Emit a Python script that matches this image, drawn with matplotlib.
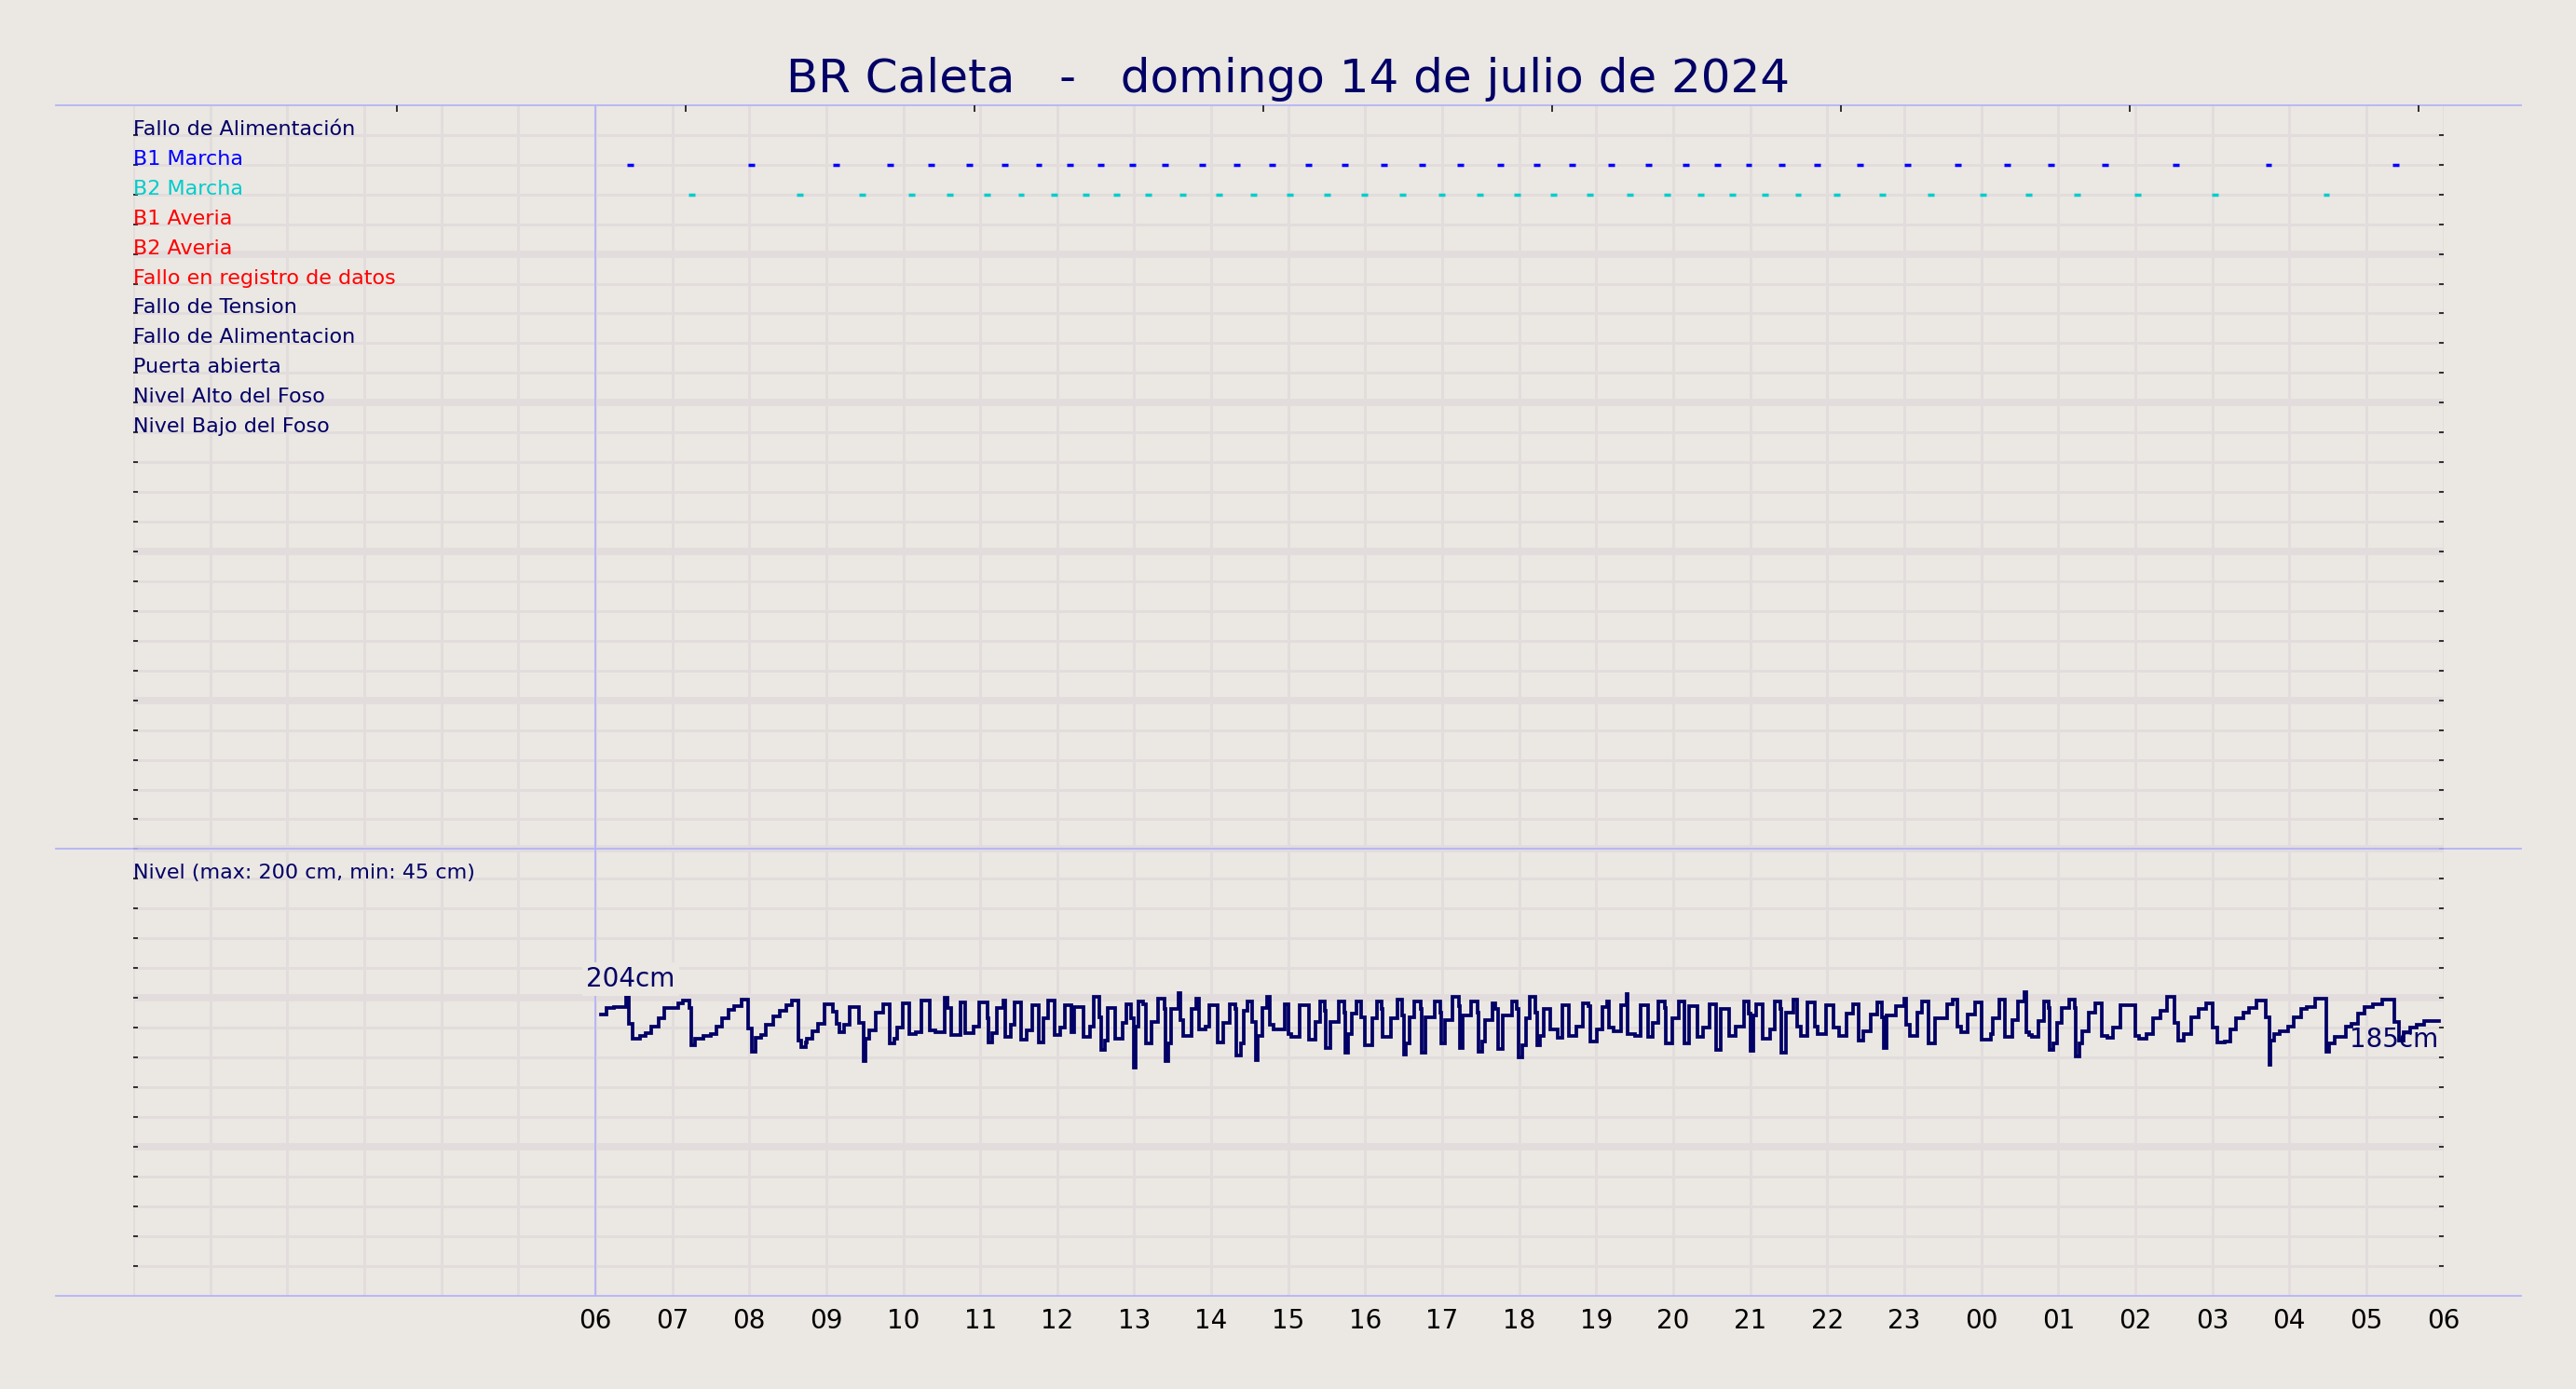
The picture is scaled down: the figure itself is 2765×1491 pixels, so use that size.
import matplotlib
matplotlib.use("Agg")
import matplotlib.pyplot as plt
from matplotlib.ticker import FixedLocator
import numpy as np

# ---------------- data ----------------
TITLE = "BR Caleta   -   domingo 14 de julio de 2024"

signal_labels = ["Fallo de Alimentación", "B1 Marcha", "B2 Marcha", "B1 Averia",
                 "B2 Averia", "Fallo en registro de datos", "Fallo de Tension",
                 "Fallo de Alimentacion", "Puerta abierta", "Nivel Alto del Foso",
                 "Nivel Bajo del Foso"]
signal_colors = ["#000066", "#0000ff", "#00cccc", "#ff0000", "#ff0000", "#ff0000",
                 "#000066", "#000066", "#000066", "#000066", "#000066"]

# pump runs (hours since 00:00 of the day; centre of each run)
b1_on = [6.46, 8.03, 9.13, 9.83, 10.36, 10.86, 11.32, 11.76, 12.17, 12.56, 12.98,
         13.40, 13.88, 14.33, 14.79, 15.26, 15.74, 16.24, 16.74, 17.24, 17.75,
         18.23, 18.69, 19.20, 19.68, 20.16, 20.57, 20.98, 21.41, 21.87, 22.43,
         23.04, 23.70, 24.34, 24.91, 25.61, 26.53, 27.73, 29.38]
b2_on = [7.25, 8.66, 9.47, 10.11, 10.61, 11.09, 11.53, 11.96, 12.37, 12.77, 13.18,
         13.63, 14.10, 14.55, 15.02, 15.50, 15.99, 16.48, 16.99, 17.49, 17.97,
         18.45, 18.92, 19.44, 19.92, 20.36, 20.77, 21.19, 21.62, 22.12, 22.72,
         23.34, 24.02, 24.61, 25.24, 26.03, 27.03, 28.48]
run_minutes = 5

# pit level, step changes (hour, cm)
level_t = [6.07, 6.15, 6.24, 6.40, 6.44, 6.48, 6.58, 6.66, 6.73, 6.82, 6.90, 7.08, 7.14,
           7.22, 7.25, 7.30, 7.40, 7.50, 7.58, 7.65, 7.73, 7.81, 7.90, 7.99, 8.04, 8.08,
           8.15, 8.22, 8.31, 8.40, 8.48, 8.56, 8.64, 8.67, 8.73, 8.75, 8.82, 8.89, 8.98,
           9.09, 9.13, 9.17, 9.23, 9.31, 9.42, 9.49, 9.51, 9.56, 9.64, 9.74, 9.82, 9.88,
           9.92, 9.99, 10.08, 10.16, 10.24, 10.34, 10.42, 10.54, 10.58, 10.62, 10.75,
           10.81, 10.91,
           10.98, 11.09, 11.11, 11.15, 11.22, 11.30, 11.33, 11.40, 11.45, 11.53, 11.60,
           11.67, 11.76, 11.82, 11.88, 11.96, 12.04, 12.10,
           12.18, 12.22, 12.34, 12.42, 12.48, 12.55, 12.57, 12.62, 12.66, 12.75, 12.85,
           12.90, 12.96, 12.99, 13.02, 13.06, 13.11, 13.15, 13.23, 13.31, 13.39, 13.40,
           13.44, 13.48, 13.57, 13.60, 13.64, 13.75, 13.81, 13.84, 13.92, 13.98, 14.08,
           14.16, 14.24, 14.31, 14.32, 14.38, 14.42, 14.47, 14.53, 14.58, 14.60, 14.66,
           14.73, 14.76, 14.81, 14.96, 15.00, 15.04, 15.15, 15.27, 15.35, 15.41, 15.47,
           15.49, 15.55, 15.65, 15.73, 15.74, 15.78, 15.83, 15.89, 15.95, 15.99, 16.09,
           16.15, 16.21, 16.23, 16.33, 16.42, 16.48, 16.50, 16.53, 16.57, 16.64, 16.72,
           16.73, 16.78, 16.90, 16.98, 16.99, 17.04, 17.13, 17.22, 17.23, 17.27, 17.38,
           17.46, 17.47, 17.52, 17.56, 17.65, 17.69, 17.73, 17.79, 17.91, 17.97, 17.99,
           18.04, 18.09, 18.14,
           18.21, 18.23, 18.27, 18.32, 18.40, 18.50, 18.56, 18.64, 18.74, 18.83, 18.90,
           18.92, 19.01, 19.08, 19.14, 19.17, 19.23, 19.32, 19.40, 19.41, 19.50, 19.57,
           19.67, 19.73, 19.81, 19.89, 19.90, 19.99, 20.07, 20.15, 20.21, 20.31, 20.39,
           20.47, 20.55, 20.62, 20.73, 20.81, 20.92, 20.98, 21.00, 21.04, 21.08, 21.16,
           21.26, 21.32, 21.39, 21.40, 21.46, 21.56, 21.61, 21.66, 21.74, 21.84, 21.88,
           21.98, 22.08, 22.15, 22.25, 22.33, 22.41, 22.47, 22.57, 22.65, 22.71, 22.73,
           22.77, 22.89, 23.00, 23.03, 23.07, 23.17, 23.23, 23.32, 23.40, 23.56, 23.63,
           23.69, 23.74, 23.82, 23.92, 24.01, 24.12,
           24.15, 24.23, 24.31, 24.40, 24.48, 24.56, 24.58, 24.62, 24.66, 24.74, 24.81,
           24.88, 24.89, 24.94, 24.98, 25.05, 25.14, 25.21, 25.22, 25.27, 25.31, 25.40,
           25.48, 25.57, 25.64, 25.71, 25.81, 26.00, 26.05, 26.15, 26.23, 26.33, 26.41,
           26.51, 26.56, 26.63, 26.73, 26.82, 26.92, 27.01, 27.06, 27.16, 27.24, 27.31,
           27.40, 27.48, 27.57, 27.69, 27.74, 27.76, 27.80, 27.88, 27.98, 28.06, 28.15,
           28.23, 28.33, 28.48, 28.52, 28.59, 28.73, 28.81, 28.89, 28.98, 29.09, 29.21,
           29.36, 29.42, 29.49, 29.57, 29.65, 29.75, 29.94]
level_cm = [188.9, 193.0, 194.1, 200.7, 182.6, 172.2, 174.3, 176.4, 180.5, 186.1, 193.0, 196.1, 198.2,
            193.0, 168.0, 172.2, 174.3, 175.7, 180.5, 186.1, 192.0, 194.5, 198.6, 179.5, 163.9, 173.2,
            174.9, 181.6, 187.4, 191.6, 195.1, 198.2, 171.2, 166.6, 170.1, 172.8, 177.8, 182.6, 195.7,
            190.9, 182.6, 177.0, 181.6, 194.1, 183.2, 157.6, 172.2, 178.4, 189.9, 195.7, 169.5, 172.2,
            179.9, 196.1, 175.7, 177.0, 198.2, 178.4, 177.0, 200.3, 193.0, 175.3, 197.2,
            176.4, 180.5,
            197.0, 186.0, 170.0, 176.0, 193.0, 198.0, 174.0, 182.0, 197.0, 172.0, 178.0,
            195.0, 170.0, 186.0, 198.0, 175.0, 180.0, 195.0,
            176.7, 194.0, 174.0, 180.8, 201.0, 187.1, 165.2, 171.5, 192.9, 172.5, 182.9,
            195.4, 186.0, 153.1, 180.8, 197.5, 195.4, 169.4, 184.0, 199.2, 192.7, 157.3,
            169.4, 192.3, 203.1, 185.0, 174.6, 192.3, 199.2, 178.8, 180.8, 194.8, 169.8,
            182.9, 195.4, 192.3, 161.0, 169.4, 191.3, 197.5, 183.5, 157.9, 174.6, 193.3,
            201.0, 181.9, 178.8, 195.4, 175.6, 173.5, 194.8, 171.9, 184.0, 197.5, 191.3,
            166.3, 184.0, 197.5, 190.2, 163.1, 175.6, 189.2, 197.5, 187.1, 168.3, 186.0,
            197.5, 192.3, 173.5, 186.0, 198.5, 188.1, 162.1, 169.4, 187.1, 197.5, 192.3,
            163.1, 187.1, 197.5, 190.2, 169.4, 185.0, 201.0, 194.4, 166.3, 188.1, 197.5,
            190.2, 163.5, 170.4, 185.0, 196.5, 192.3, 165.6, 188.1, 197.5, 192.3, 160.0,
            168.3, 186.5, 200.6,
            190.2, 168.3, 174.6, 192.7, 178.8, 173.3, 194.8, 174.6, 180.8, 196.5, 194.4,
            170.4, 178.8, 194.0, 197.5, 179.8, 177.7, 194.8, 202.3, 175.6, 174.6, 194.8,
            173.5, 182.9, 197.5, 193.3, 169.4, 186.0, 197.5, 169.4, 194.4, 173.5, 179.8,
            195.4, 164.8, 192.3, 174.6, 180.8, 197.5, 189.4, 164.2, 188.1, 195.4, 172.5,
            178.8, 197.5, 192.3, 163.1, 190.2, 198.5, 180.8, 174.6, 197.1, 180.8, 175.6,
            194.8, 179.8, 174.6, 189.2, 195.4, 171.3, 177.7, 188.8, 197.1, 187.1, 166.3,
            188.1, 194.4, 199.2, 181.9, 174.6, 190.2, 197.5, 169.4, 186.0, 195.4, 198.5,
            180.4, 176.7, 188.8, 197.1, 171.9, 175.6,
            186.0, 198.8, 174.0, 185.0, 197.5, 204.0, 176.7, 175.2, 174.0, 184.4, 197.5,
            193.3, 165.2, 169.4, 182.9, 193.3, 198.5, 193.3, 160.6, 169.4, 177.7, 190.2,
            196.5, 174.6, 173.1, 179.8, 194.8, 174.6, 172.5, 175.6, 186.0, 191.3, 201.0,
            182.9, 171.3, 175.6, 187.1, 192.7, 196.0, 179.8, 169.8, 170.4, 178.8, 186.0,
            190.2, 193.3, 198.1, 187.1, 155.0, 171.3, 175.6, 177.7, 180.8, 187.1, 192.3,
            194.0, 199.6, 163.5, 169.4, 173.5, 180.8, 182.3, 189.2, 194.0, 195.4, 199.0,
            183.6, 171.1, 177.0, 179.9, 182.0, 184.7, 184.7]

nivel_max_cm = 200
nivel_min_cm = 45

hour_ticks = list(range(0, 31))
hour_labels = [""] * 6 + ["06", "07", "08", "09", "10", "11", "12", "13", "14", "15",
                          "16", "17", "18", "19", "20", "21", "22", "23", "00", "01",
                          "02", "03", "04", "05", "06"]
top_ticks = [3.43, 7.18, 10.93, 14.68, 18.43, 22.18, 25.93, 29.68]

# ---------------- style ----------------
BG = "#ebe7e2"
GRID = "#e2dcdc"
NAVY = "#000066"
LAV = "#b4b4f8"
CM_PER_ROW = 20.0
N_ROWS = 40

fig = plt.figure(figsize=(27.65, 14.91), dpi=100, facecolor=BG)
ax = fig.add_axes([0.0517, 0.0674, 0.8968, 0.8569])
ax.set_facecolor(BG)
ax.set_xlim(0, 30)
ax.set_ylim(0, N_ROWS)
for s in ax.spines.values():
    s.set_visible(False)

ax.yaxis.set_major_locator(FixedLocator([5, 10, 15, 20, 25, 30, 35]))
ax.yaxis.set_minor_locator(FixedLocator([v for v in range(1, N_ROWS) if v % 5]))
ax.xaxis.set_major_locator(FixedLocator(hour_ticks))
ax.set_xticklabels(hour_labels)
ax.set_axisbelow(True)
ax.grid(which="major", axis="y", color=GRID, lw=5.5)
ax.grid(which="minor", axis="y", color=GRID, lw=2.0)
ax.grid(which="major", axis="x", color=GRID, lw=2.0)

ax.tick_params(axis="y", which="both", direction="in", length=3.6, width=1.2,
               left=True, right=True, labelleft=False, labelright=False, color="#111111")
ax.tick_params(axis="x", which="major", length=0, pad=10, labelsize=20, labelcolor="black")

twin = ax.twiny()
twin.set_xlim(0, 30)
twin.set_xticks(top_ticks)
twin.tick_params(axis="x", direction="in", length=5, width=1.2, top=True,
                 labeltop=False, color="#111111")
for s in twin.spines.values():
    s.set_visible(False)

# separator lines
for yv in (N_ROWS, 15, 0):
    ax.axhline(yv, xmin=-0.0335, xmax=1.0335, color=LAV, lw=1.3, clip_on=False, zorder=3)
ax.axvline(level_t[0] - 0.07, color=LAV, lw=1.3, zorder=3)

# signal labels
for i, (lab, col) in enumerate(zip(signal_labels, signal_colors)):
    ax.text(0.0, N_ROWS - 1 - i, lab, color=col, fontsize=16, ha="left", va="baseline", zorder=4)

# pump runs
half = run_minutes / 60.0 / 2
b1 = np.array(b1_on)
b2 = np.array(b2_on)
ax.hlines([N_ROWS - 2] * len(b1), b1 - half, b1 + half, color="#0000ff", lw=2.5, zorder=4)
ax.hlines([N_ROWS - 3] * len(b2), b2 - half, b2 + half, color="#00cccc", lw=2.5, zorder=4)

# level
lvl = np.array(level_cm) / CM_PER_ROW
ax.plot(level_t, lvl, drawstyle="steps-post", color=NAVY, lw=2.7, zorder=5,
        solid_joinstyle="miter")
ax.text(0.0, 14, f"Nivel (max: {nivel_max_cm} cm, min: {nivel_min_cm} cm)", color=NAVY,
        fontsize=16, ha="left", va="baseline", zorder=4)

max_cm = max(level_cm)
ax.annotate(f"{round(max_cm)}cm", xy=(level_t[0], max_cm / CM_PER_ROW),
            xytext=(-11, 0), textcoords="offset points", ha="left", va="bottom",
            fontsize=20, color=NAVY, zorder=6,
            bbox=dict(boxstyle="square,pad=0.15", fc=BG, ec="none"))
ax.annotate(f"{round(level_cm[-1])}cm", xy=(level_t[-1], level_cm[-1] / CM_PER_ROW),
            xytext=(0, -5), textcoords="offset points", ha="right", va="top",
            fontsize=20, color=NAVY, zorder=4)

fig.text(0.5, 1 - 98.7 / 1491, TITLE, ha="center", va="baseline", fontsize=36, color=NAVY)

fig.savefig("out.png", dpi=100, facecolor=BG)
